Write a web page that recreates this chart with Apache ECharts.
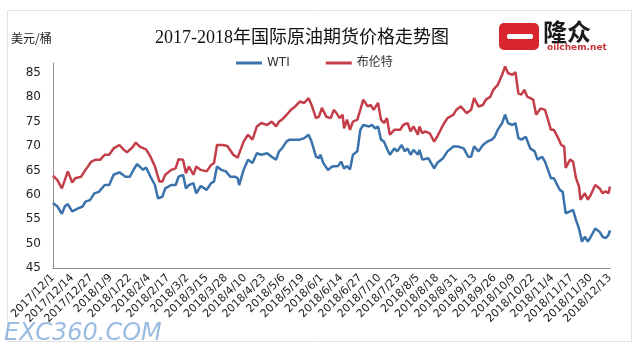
<!DOCTYPE html>
<html><head><meta charset="utf-8">
<script src="https://cdn.jsdelivr.net/npm/echarts/dist/echarts.min.js"></script>
<style>html,body{margin:0;padding:0;background:#fff}#c{width:640px;height:350px}</style>
</head><body><div id="c"></div>
<script>
const startDate = '2017/12/1';
const endDate = '2018/12/13';
const tickStepDays = 13;
const yTicks = [45, 50, 55, 60, 65, 70, 75, 80, 85];
const seriesNames = ['WTI', '布伦特'];

const wtiDates = ['2017/12/1','2017/12/4','2017/12/7','2017/12/9','2017/12/11','2017/12/14','2017/12/18','2017/12/21','2017/12/23','2017/12/26','2017/12/29',
'2018/1/1','2018/1/5','2018/1/8','2018/1/11','2018/1/15','2018/1/19','2018/1/22','2018/1/25','2018/1/27','2018/1/31',
'2018/2/2','2018/2/5','2018/2/8','2018/2/10','2018/2/13','2018/2/15','2018/2/19','2018/2/22','2018/2/24','2018/2/27',
'2018/3/1','2018/3/3','2018/3/6','2018/3/8','2018/3/11','2018/3/15','2018/3/18','2018/3/20','2018/3/22','2018/3/25','2018/3/28','2018/3/31',
'2018/4/3','2018/4/5','2018/4/6','2018/4/9','2018/4/12','2018/4/15','2018/4/18','2018/4/21','2018/4/25','2018/4/28',
'2018/5/1','2018/5/3','2018/5/5','2018/5/8','2018/5/10','2018/5/13','2018/5/17','2018/5/20','2018/5/23','2018/5/25','2018/5/28','2018/5/30','2018/5/31',
'2018/6/2','2018/6/5','2018/6/8','2018/6/12','2018/6/14','2018/6/16','2018/6/18','2018/6/20','2018/6/22','2018/6/25','2018/6/27','2018/6/29',
'2018/7/3','2018/7/5','2018/7/7','2018/7/9','2018/7/11','2018/7/13','2018/7/15','2018/7/17','2018/7/20','2018/7/22','2018/7/25','2018/7/27','2018/7/29','2018/7/31',
'2018/8/2','2018/8/5','2018/8/6','2018/8/8','2018/8/12','2018/8/16','2018/8/18','2018/8/22','2018/8/25','2018/8/29',
'2018/9/1','2018/9/5','2018/9/8','2018/9/10','2018/9/12','2018/9/15','2018/9/18','2018/9/21','2018/9/24','2018/9/26','2018/9/28',
'2018/10/1','2018/10/3','2018/10/5','2018/10/8','2018/10/10','2018/10/12','2018/10/14','2018/10/17','2018/10/20','2018/10/23','2018/10/25','2018/10/28','2018/10/30',
'2018/11/1','2018/11/3','2018/11/5','2018/11/9','2018/11/11','2018/11/13','2018/11/16','2018/11/18','2018/11/20','2018/11/22','2018/11/24','2018/11/26','2018/11/28','2018/11/30',
'2018/12/3','2018/12/6','2018/12/8','2018/12/10','2018/12/12','2018/12/13'];
const wtiValues = [58.3,57.6,56.1,57.6,58.1,56.6,57.2,57.6,58.6,58.9,60.3,
60.6,62.0,62.0,64.1,64.6,63.7,63.7,65.4,66.3,65.1,
65.6,63.7,62.0,59.3,59.6,61.3,62.0,62.0,63.7,64.1,
61.3,62.0,62.4,60.3,61.8,61.0,62.4,62.7,65.8,65.1,64.8,63.7,
63.7,63.4,62.0,65.1,67.2,66.5,68.5,68.2,68.5,67.8,
67.2,68.9,69.5,70.9,71.3,71.3,71.3,71.6,72.3,70.9,67.8,67.5,68.2,
66.5,65.1,65.8,65.9,66.8,65.4,65.9,65.2,68.2,68.9,73.3,74.3,
74.0,74.3,73.6,74.0,71.3,70.9,69.5,68.2,69.5,68.9,70.2,68.9,69.5,68.2,
69.2,68.2,69.2,67.2,67.5,65.4,66.5,67.5,68.9,69.9,
69.9,69.5,67.8,67.8,69.9,68.9,70.2,70.9,71.3,71.9,73.3,
74.7,76.4,74.7,74.3,74.7,71.6,71.3,71.9,69.5,68.9,67.2,67.8,66.8,
65.1,63.4,63.4,61.0,60.6,56.2,56.6,56.9,54.8,53.1,50.4,51.4,50.4,51.4,
53.1,52.4,51.4,51.1,51.8,52.7];

const brentDates = ['2017/12/1','2017/12/4','2017/12/7','2017/12/9','2017/12/11','2017/12/14','2017/12/16','2017/12/20','2017/12/23','2017/12/27','2017/12/30',
'2018/1/2','2018/1/5','2018/1/8','2018/1/11','2018/1/15','2018/1/18','2018/1/20','2018/1/24','2018/1/26','2018/1/29',
'2018/2/2','2018/2/5','2018/2/8','2018/2/11','2018/2/13','2018/2/15','2018/2/19','2018/2/22','2018/2/24','2018/2/27',
'2018/3/1','2018/3/3','2018/3/6','2018/3/8','2018/3/11','2018/3/15','2018/3/18','2018/3/20','2018/3/22','2018/3/26','2018/3/29',
'2018/4/2','2018/4/5','2018/4/9','2018/4/12','2018/4/15','2018/4/18','2018/4/21','2018/4/25','2018/4/28',
'2018/5/1','2018/5/3','2018/5/5','2018/5/9','2018/5/11','2018/5/14','2018/5/17','2018/5/20','2018/5/23','2018/5/25','2018/5/28','2018/5/30',
'2018/6/1','2018/6/4','2018/6/7','2018/6/9','2018/6/11','2018/6/13','2018/6/15','2018/6/16','2018/6/18','2018/6/20','2018/6/22','2018/6/25','2018/6/27','2018/6/29',
'2018/7/2','2018/7/4','2018/7/6','2018/7/9','2018/7/11','2018/7/13','2018/7/15','2018/7/17','2018/7/20','2018/7/24','2018/7/26','2018/7/29','2018/7/31',
'2018/8/2','2018/8/5','2018/8/6','2018/8/8','2018/8/10','2018/8/13','2018/8/16','2018/8/18','2018/8/22','2018/8/25','2018/8/29','2018/8/31',
'2018/9/3','2018/9/7','2018/9/10','2018/9/12','2018/9/15','2018/9/18','2018/9/20','2018/9/23','2018/9/25','2018/9/28',
'2018/10/1','2018/10/3','2018/10/5','2018/10/8','2018/10/10','2018/10/12','2018/10/14','2018/10/16','2018/10/18','2018/10/22','2018/10/24','2018/10/27','2018/10/30',
'2018/11/1','2018/11/3','2018/11/5','2018/11/8','2018/11/10','2018/11/12','2018/11/13','2018/11/16','2018/11/18','2018/11/20','2018/11/22','2018/11/23','2018/11/26','2018/11/28','2018/11/30',
'2018/12/3','2018/12/6','2018/12/8','2018/12/10','2018/12/12','2018/12/13'];
const brentValues = [63.9,63.0,61.3,63.0,64.8,62.5,63.4,63.7,65.1,66.8,67.2,
67.2,68.2,68.2,69.5,70.2,69.2,68.7,69.8,70.7,69.8,
69.3,67.8,65.8,62.7,62.7,64.1,65.1,65.4,67.3,67.2,
64.4,65.8,64.1,65.8,65.1,64.8,66.1,66.5,70.2,70.2,70.0,
68.2,67.6,70.9,72.3,71.3,74.0,74.7,74.3,75.0,
74.0,75.0,75.4,76.7,77.4,78.1,79.1,78.8,79.8,78.4,75.7,76.0,
77.8,76.0,75.7,77.4,76.7,75.7,76.4,73.6,75.4,73.3,75.0,75.4,77.4,79.5,
78.1,78.4,77.4,78.8,75.4,74.7,75.7,72.3,73.3,73.3,74.3,74.7,73.0,
74.0,72.3,74.0,72.6,73.0,72.6,70.9,71.9,74.3,75.7,76.4,77.4,
78.1,76.7,77.4,79.8,78.1,78.4,79.5,80.1,81.5,82.5,
84.6,86.3,84.9,84.6,85.1,80.8,80.5,81.5,80.1,79.5,76.4,77.7,77.4,
75.4,73.3,73.3,71.6,70.2,69.9,65.5,67.2,66.8,63.4,61.7,59.0,60.3,59.0,60.0,
62.0,61.3,60.3,60.7,60.3,61.7];

const DAY = 86400000;
function toUTC(s){const p=s.split('/').map(Number);return Date.UTC(p[0],p[1]-1,p[2]);}
const t0 = toUTC(startDate);
function dayIndex(s){return Math.round((toUTC(s)-t0)/DAY);}
function dayLabel(d){const t=new Date(t0+Math.round(d)*DAY);return t.getUTCFullYear()+'/'+(t.getUTCMonth()+1)+'/'+t.getUTCDate();}
const lastDay = dayIndex(endDate);

const chart = echarts.init(document.getElementById('c'), null, {renderer:'canvas'});
const axisColor = '#8c8c8c';
chart.setOption({
  backgroundColor:'#ffffff',
  animation:false,
  grid:{left:53, right:30, top:63, bottom:82},
  legend:{
    data:seriesNames, left:231, top:52, icon:'rect', itemWidth:26, itemHeight:3, itemGap:36,
    textStyle:{fontSize:12, color:'#333', fontFamily:'DejaVu Sans, Noto Sans CJK SC'}
  },
  xAxis:{
    type:'value', min:0, max:lastDay, interval:tickStepDays,
    axisLine:{show:true, lineStyle:{color:axisColor, width:1}},
    axisTick:{show:false}, splitLine:{show:false},
    axisLabel:{rotate:45, fontSize:11, color:'#222', margin:8, fontFamily:'DejaVu Sans', showMaxLabel:true,
      formatter:function(v){return dayLabel(v);}}
  },
  yAxis:{
    type:'value', min:yTicks[0], max:87, interval:yTicks[1]-yTicks[0],
    axisLine:{show:true, lineStyle:{color:axisColor, width:1}},
    axisTick:{show:false}, splitLine:{show:false},
    axisLabel:{fontSize:12, color:'#222', margin:12, fontFamily:'DejaVu Sans', showMaxLabel:false}
  },
  series:[
    {name:seriesNames[0], type:'line', symbol:'none', color:'#3a72ab',
     lineStyle:{width:2.5, color:'#3a72ab'},
     data:wtiDates.map((d,i)=>[dayIndex(d), wtiValues[i]])},
    {name:seriesNames[1], type:'line', symbol:'none', color:'#c43e4a',
     lineStyle:{width:2.5, color:'#c43e4a'},
     data:brentDates.map((d,i)=>[dayIndex(d), brentValues[i]])}
  ],
  graphic:[
    {type:'rect', shape:{x:7.5, y:10.5, width:624, height:331}, style:{fill:'none', stroke:'#e2e2e2', lineWidth:1}, silent:true, z:-1},
    {type:'text', x:11, y:38, style:{text:'美元/桶', fontSize:12, fill:'#222', fontFamily:'Noto Sans CJK SC', verticalAlign:'middle'}},
    {type:'text', x:302, y:38, style:{text:'2017-2018年国际原油期货价格走势图', fontSize:18, fill:'#111', fontFamily:'Liberation Serif, Noto Sans CJK SC', align:'center', verticalAlign:'middle'}},
    {type:'rect', shape:{x:499, y:23, width:40, height:27, r:5}, style:{fill:'#d8262e'}},
    {type:'rect', shape:{x:507, y:34, width:26, height:5, r:2}, style:{fill:'#ffffff'}},
    {type:'text', x:543, y:32, style:{text:'隆众', fontSize:24, fontWeight:'bold', fill:'#1a1a1a', fontFamily:'Noto Sans CJK SC', verticalAlign:'middle'}},
    {type:'text', x:547, y:48, style:{text:'oilchem.net', fontSize:9, fontWeight:'bold', fill:'#c8323a', fontFamily:'DejaVu Sans', verticalAlign:'middle'}},
    {type:'text', x:4, y:334, style:{text:'EXC360.COM', fontSize:24, fontStyle:'italic', fill:'rgba(120,165,215,0.75)', fontFamily:'DejaVu Sans', verticalAlign:'middle'}}
  ]
});
</script></body></html>
